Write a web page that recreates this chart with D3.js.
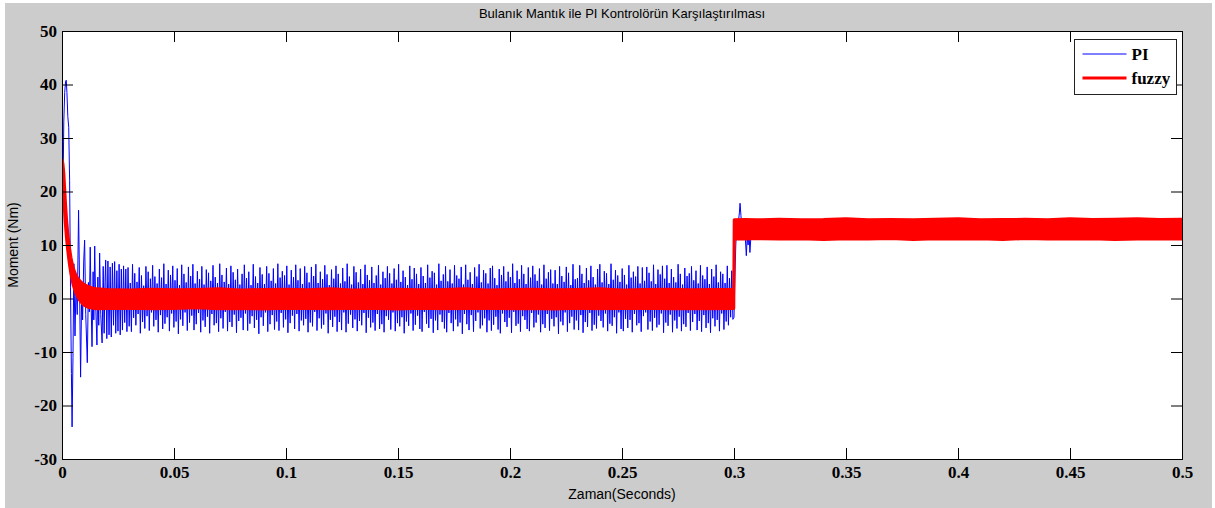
<!DOCTYPE html>
<html>
<head>
<meta charset="utf-8">
<script src="https://cdn.jsdelivr.net/npm/d3@7"></script>
<style>
  body { margin: 0; background: #ffffff; }
  svg text { fill: #000; }
</style>
</head>
<body>
<svg id="chart" width="1215" height="508"></svg>
<script>
// ---- Torque response: PI controller vs fuzzy controller ----

const xTickValues = [0, 0.05, 0.1, 0.15, 0.2, 0.25, 0.3, 0.35, 0.4, 0.45, 0.5];
const yTickValues = [-30, -20, -10, 0, 10, 20, 30, 40, 50];

// PI: start-up transient (time in s, torque in Nm)
const piStartTime = [0, 0.0004, 0.0008, 0.0012, 0.0016, 0.0019, 0.0022, 0.0026, 0.003, 0.0034,
  0.0038, 0.0042, 0.0045, 0.0049, 0.0053, 0.0058, 0.0063, 0.0068, 0.0074, 0.0078,
  0.0083, 0.0088, 0.0092, 0.0097, 0.0101, 0.0106, 0.0113, 0.0118, 0.0122, 0.0126,
  0.0130, 0.0134, 0.0139, 0.0142, 0.0146, 0.0151, 0.0156, 0.0160, 0.0164, 0.0168,
  0.0173, 0.0179, 0.0184, 0.0188, 0.0192, 0.0195, 0.0200];
const piStartValue = [0, 18, 33, 38.5, 40.6, 40.8, 38.5, 34, 32, 22,
  2, -14, -24, -11, 6.5, -7, 3.5, -3, 16.5, 4,
  -14.7, 1.5, -4, 7, 10.9, -3, -12, 3, -2.5, 9.6,
  -1, -9, 5, -4, 9.8, -2, -8.7, 4, -5, 8.5,
  -3, -8.3, 6, -6.5, 3, 7.2, -7.5];

// PI: no-load steady state, evenly sampled from piSteadyStart to piSteadyEnd
const piSteadyStart = 0.0205;
const piSteadyEnd = 0.2995;
const piSteady = [
  7.0,-6.8,5.9,-7.2,6.6,-5.0,6.9,-6.5,5.2,-6.1,6.4,-6.8,5.5,-5.9,6.1,-4.5,5.5,-6.2,5.8,-5.2,
  2.9,-6.2,6.4,-3.6,4.7,-5.0,3.1,-2.9,5.8,-6.5,4.3,-4.4,2.4,-5.6,6.0,-3.3,5.0,-6.0,3.7,-2.6,
  6.2,-5.2,4.1,-4.0,2.8,-6.3,5.5,-3.1,3.9,-5.7,6.5,-4.7,2.7,-3.5,5.3,-6.1,4.4,-2.8,6.1,-5.4,
  3.4,-4.3,5.6,-6.6,2.5,-3.9,6.3,-5.1,4.6,-2.6,3.0,-6.0,5.9,-4.5,4.2,-3.2,6.4,-5.9,2.8,-4.8,
  5.1,-2.7,3.6,-6.3,6.0,-4.1,2.6,-5.3,5.4,-3.4,4.8,-6.5,3.3,-2.9,6.2,-5.0,4.0,-4.6,2.9,-6.2,
  6.5,-3.7,4.4,-5.6,3.1,-2.5,5.7,-6.1,2.7,-4.4,6.1,-5.3,4.9,-3.0,3.5,-6.4,5.5,-4.2,2.6,-3.6,
  4.6,-5.9,6.3,-2.8,3.8,-6.0,5.0,-4.7,2.5,-3.3,6.4,-5.5,4.1,-4.0,2.9,-6.6,5.8,-3.5,4.5,-5.1,
  2.7,-2.6,6.0,-6.2,4.7,-4.8,3.3,-3.1,5.6,-5.8,2.8,-4.3,6.5,-6.0,3.9,-2.7,5.1,-5.4,4.3,-3.9,
  6.1,-6.4,2.6,-4.6,5.3,-3.2,4.0,-5.7,6.3,-2.9,3.4,-6.1,5.6,-4.1,2.7,-5.0,6.0,-3.8,4.8,-6.3,
  3.0,-4.5,5.9,-5.2,4.2,-2.5,6.4,-6.0,2.9,-3.7,5.0,-5.6,3.6,-4.9,6.2,-2.8,4.5,-6.5,2.5,-4.0,
  5.4,-5.3,3.7,-3.4,6.1,-6.2,4.6,-4.4,2.8,-5.9,5.7,-2.6,3.2,-6.3,6.5,-4.7,4.1,-3.0,2.6,-5.5,
  6.0,-3.9,4.9,-6.1,3.0,-4.2,5.5,-5.0,2.7,-2.7,6.3,-6.4,4.4,-3.6,3.4,-5.4,5.9,-4.5,2.9,-6.0,
  4.3,-2.9,6.2,-5.7,2.6,-4.8,5.0,-6.3,3.8,-3.3,6.0,-4.0,4.7,-5.8,2.8,-2.6,5.6,-6.1,3.5,-4.6,
  6.4,-5.2,3.1,-3.5,5.2,-6.5,4.0,-4.3,2.5,-5.1,6.1,-2.8,3.6,-6.0,5.7,-4.9,4.6,-3.2,2.7,-5.7,
  5.8,-6.2,4.2,-2.5,2.9,-4.7,6.3,-5.5,3.9,-3.8,5.1,-6.4,4.8,-4.1,2.6,-5.9,6.5,-3.0,3.3,-4.4,
  4.5,-5.6,6.0,-6.3,3.2,-2.7,5.4,-4.6,2.8,-6.1,6.2,-3.9,4.3,-5.2,3.7,-4.5,5.9,-6.6,2.6,-2.9,
  6.3,-4.8,3.5,-5.9,4.9,-3.1,2.7,-6.2,5.8,-4.2,4.1,-2.6,6.4,-5.6,3.0,-5.0,5.3,-3.7,4.7,-6.3,
  2.8,-4.1,5.7,-6.0,6.1,-4.9,3.8,-3.4,2.5,-5.8,5.5,-6.5,4.4,-2.8,6.0,-4.4,3.2,-5.3,5.0,-3.6,
  4.0,-6.4,6.5,-2.5,2.9,-5.1,5.2,-4.7,3.6,-6.2,6.2,-3.3,4.6,-4.0,2.7,-5.7,5.8,-6.1,3.9,-2.7,
  6.1,-5.4,4.5,-4.5,3.3,-3.0,5.6,-6.3,2.6,-4.8,6.3,-5.5,3.7,-2.9,4.9,-6.0,5.4,-3.8,2.8,-5.2,
  5.3,-3.5,2.7,-6.6,6.0,-4.3,4.2,-5.0,3.1,-2.6,5.9,-6.2,4.8,-4.6,2.5,-3.4,6.4,-5.8,3.6,-4.1,
  3.8,-5.9,6.2,-3.1,4.6,-6.4,2.9,-4.4,5.7,-5.3,3.4,-2.7,6.1,-6.0,4.0,-4.9,2.6,-5.6,5.5,-3.2,
  6.4,-4.2,3.0,-5.4,5.1,-2.8,4.7,-6.1,2.7,-4.7,6.5,-5.1,3.5,-3.5,5.3,-6.5,4.3,-2.6,3.1,-5.7,
  5.6,-6.1,4.4,-3.8,2.6,-5.5,6.2,-4.0,3.9,-6.3,5.0,-2.9,4.1,-5.0,6.0,-4.6,2.8,-6.2,5.8,-3.3,
  3.3,-2.6,5.9,-5.8,4.8,-4.3,3.2,-6.0,6.3,-3.6,2.7,-5.4,5.4,-4.9,4.5,-2.8,6.1,-6.4,3.7,-4.5,
  6.2,-5.1,2.9,-3.0,5.5,-6.3,4.0,-4.1,3.0,-5.6,6.4,-3.4,4.6,-6.1,2.6,-4.8,5.7,-5.3,4.2,-2.7,
  4.7,-6.0,6.0,-4.4,3.4,-2.9,5.2,-5.9,2.8,-4.2,6.2,-6.2,4.3,-3.1,3.6,-5.5,5.9,-4.6,2.7,-6.4,
  5.5,-3.7,4.1,-5.2,6.3,-4.0,3.0,-6.1,5.0,-2.8,4.6,-5.8,2.9,-4.3,6.1,-5.0,3.8,-3.5,5.2,-3.9
];

// PI: load step at 0.3 s and loaded operation
const piLoadTime = [0.3000, 0.3004, 0.3008, 0.3012, 0.3016, 0.3020, 0.3024, 0.3027, 0.3031, 0.3035,
  0.3039, 0.3043, 0.3047, 0.3051, 0.3055, 0.3059, 0.3063, 0.3067, 0.3071, 0.3075,
  0.3079, 0.3084, 0.3090, 0.310, 0.315, 0.320, 0.325, 0.330, 0.335, 0.340,
  0.345, 0.350, 0.355, 0.360, 0.365, 0.370, 0.375, 0.380, 0.385, 0.390,
  0.395, 0.400, 0.405, 0.410, 0.415, 0.420, 0.425, 0.430, 0.435, 0.440,
  0.445, 0.450, 0.455, 0.460, 0.465, 0.470, 0.475, 0.480, 0.485, 0.490,
  0.495, 0.500];
const piLoadValue = [-3.5, 4, 10, 13.5, 12, 14.5, 16, 17.8, 15.5, 13,
  14.2, 11.8, 13.5, 11, 8.0, 11.5, 10, 12.5, 8.6, 11.2,
  13.8, 11.6, 14.2, 12.2, 13.9, 11.8, 14.2, 12.0, 13.6, 11.7,
  14.1, 12.3, 13.8, 11.9, 14.3, 12.1, 13.7, 11.8, 14.0, 12.4,
  13.9, 11.7, 14.2, 12.0, 13.6, 11.9, 14.1, 12.2, 13.8, 11.8,
  14.3, 12.1, 13.7, 11.9, 14.0, 12.3, 13.9, 11.7, 14.2, 12.0,
  13.6, 12.5];

// Fuzzy: upper and lower edges of the ripple band (Nm)
const fuzzyTime = [0, 0.0004, 0.0008, 0.0012, 0.0016, 0.002, 0.0025, 0.003, 0.0035, 0.004,
  0.0045, 0.005, 0.006, 0.007, 0.008, 0.009, 0.010, 0.012, 0.014, 0.016,
  0.02, 0.03, 0.04, 0.05, 0.06, 0.07, 0.08, 0.09, 0.10, 0.11,
  0.12, 0.13, 0.14, 0.15, 0.16, 0.17, 0.18, 0.19, 0.20, 0.21,
  0.22, 0.23, 0.24, 0.25, 0.26, 0.27, 0.28, 0.29, 0.2999,
  0.3001, 0.305, 0.31, 0.32, 0.33, 0.34, 0.35, 0.36, 0.37, 0.38,
  0.39, 0.40, 0.41, 0.42, 0.43, 0.44, 0.45, 0.46, 0.47, 0.48,
  0.49, 0.50];
const fuzzyHigh = [26.0, 25.2, 23.5, 20.5, 17.5, 15.0, 12.6, 10.6, 9.0, 7.7,
  6.6, 5.7, 4.6, 3.8, 3.3, 2.9, 2.6, 2.2, 1.9, 1.8,
  1.7, 1.6, 1.75, 1.65, 1.7, 1.8, 1.6, 1.7, 1.75, 1.65,
  1.8, 1.6, 1.7, 1.75, 1.65, 1.7, 1.8, 1.6, 1.7, 1.75,
  1.65, 1.7, 1.8, 1.6, 1.7, 1.75, 1.65, 1.7, 1.7,
  14.7, 14.75, 14.7, 14.8, 14.7, 14.75, 14.9, 14.7, 14.75, 14.7,
  14.8, 14.9, 14.7, 14.75, 14.8, 14.7, 14.9, 14.75, 14.8, 14.9,
  14.75, 14.8];
const fuzzyLow = [23.5, 21.5, 18.8, 16.0, 13.4, 11.3, 9.2, 7.4, 5.9, 4.6,
  3.5, 2.5, 1.2, 0.3, -0.4, -0.9, -1.3, -1.7, -1.85, -1.9,
  -1.85, -1.8, -1.9, -1.85, -1.75, -1.9, -1.85, -1.95, -1.8, -1.85,
  -1.9, -1.8, -1.85, -1.95, -1.8, -1.9, -1.85, -1.8, -1.9, -1.85,
  -1.95, -1.8, -1.9, -1.85, -1.8, -1.9, -1.85, -1.9, -1.85,
  11.15, 11.1, 11.2, 11.1, 11.15, 11.05, 11.15, 11.1, 11.2, 11.05,
  11.15, 11.1, 11.15, 11.05, 11.2, 11.1, 11.1, 11.15, 11.05, 11.1,
  11.15, 11.1];

// ---- assemble series ----
const piSteadyTime = piSteady.map((_, i) =>
  piSteadyStart + (piSteadyEnd - piSteadyStart) * i / (piSteady.length - 1));
const piSeries = [
  ...piStartTime.map((t, i) => [t, piStartValue[i]]),
  ...piSteadyTime.map((t, i) => [t, piSteady[i]]),
  ...piLoadTime.map((t, i) => [t, piLoadValue[i]])
];
const fuzzySeries = fuzzyTime.map((t, i) => ({ t, hi: fuzzyHigh[i], lo: fuzzyLow[i] }));

// ---- layout ----
const W = 1215, H = 508;
const plot = { left: 62, right: 1182, top: 31, bottom: 459 };
const tickLen = 11;
const tickFont = '"Liberation Serif", "Times New Roman", serif';
const textFont = '"Liberation Sans", Arial, sans-serif';

const svg = d3.select("#chart");

// figure background
svg.append("rect").attr("x", 0).attr("y", 0).attr("width", W).attr("height", H).attr("fill", "#ffffff");
svg.append("rect").attr("x", 5).attr("y", 3).attr("width", W - 8).attr("height", H - 3).attr("fill", "#cccccc");

// axes background
svg.append("rect")
  .attr("x", plot.left).attr("y", plot.top)
  .attr("width", plot.right - plot.left).attr("height", plot.bottom - plot.top)
  .attr("fill", "#ffffff");

const x = d3.scaleLinear().domain([0, 0.5]).range([plot.left, plot.right]);
const y = d3.scaleLinear().domain([-30, 50]).range([plot.bottom, plot.top]);

svg.append("defs").append("clipPath").attr("id", "plotClip")
  .append("rect")
  .attr("x", plot.left + 0.5).attr("y", plot.top)
  .attr("width", plot.right - plot.left - 0.5).attr("height", plot.bottom - plot.top);

const traces = svg.append("g").attr("clip-path", "url(#plotClip)");

// PI trace
traces.append("path")
  .datum(piSeries)
  .attr("fill", "none")
  .attr("stroke", "#0000ff")
  .attr("stroke-width", 1)
  .attr("stroke-linejoin", "miter")
  .attr("d", d3.line().x(d => x(d[0])).y(d => y(d[1])));

// Fuzzy trace (dense ripple drawn as a thick band)
traces.append("path")
  .datum(fuzzySeries)
  .attr("fill", "#ff0000")
  .attr("stroke", "#ff0000")
  .attr("stroke-width", 3)
  .attr("stroke-linejoin", "round")
  .attr("d", d3.area().x(d => x(d.t)).y0(d => y(d.lo)).y1(d => y(d.hi)));

// ticks (inward, on all four sides)
const fmt = d => String(d);
const styleAxis = g => {
  g.select(".domain").remove();
  g.selectAll(".tick line").attr("stroke", "#000").attr("stroke-width", 1);
  g.selectAll(".tick text")
    .attr("font-family", tickFont).attr("font-weight", "bold")
    .attr("font-size", 17).attr("fill", "#000");
};

svg.append("g").attr("transform", `translate(0,${plot.bottom})`)
  .call(d3.axisBottom(x).tickValues(xTickValues).tickFormat(fmt).tickSizeInner(-tickLen).tickSizeOuter(0).tickPadding(7))
  .call(styleAxis);
svg.append("g").attr("transform", `translate(0,${plot.top})`)
  .call(d3.axisTop(x).tickValues(xTickValues).tickFormat("").tickSizeInner(-tickLen).tickSizeOuter(0))
  .call(styleAxis);
svg.append("g").attr("transform", `translate(${plot.left},0)`)
  .call(d3.axisLeft(y).tickValues(yTickValues).tickFormat(fmt).tickSizeInner(-tickLen).tickSizeOuter(0).tickPadding(5))
  .call(styleAxis);
svg.append("g").attr("transform", `translate(${plot.right},0)`)
  .call(d3.axisRight(y).tickValues(yTickValues).tickFormat("").tickSizeInner(-tickLen).tickSizeOuter(0))
  .call(styleAxis);

// axes box
svg.append("rect")
  .attr("x", plot.left + 0.5).attr("y", plot.top + 0.5)
  .attr("width", plot.right - plot.left).attr("height", plot.bottom - plot.top)
  .attr("fill", "none").attr("stroke", "#000").attr("stroke-width", 1);

// title and axis labels
svg.append("text")
  .attr("x", (plot.left + plot.right) / 2).attr("y", 18)
  .attr("text-anchor", "middle")
  .attr("font-family", textFont).attr("font-size", 13)
  .text("Bulanık Mantık ile PI Kontrolörün Karşılaştırılması");

svg.append("text")
  .attr("x", (plot.left + plot.right) / 2).attr("y", 499)
  .attr("text-anchor", "middle")
  .attr("font-family", textFont).attr("font-size", 14)
  .text("Zaman(Seconds)");

svg.append("text")
  .attr("transform", `translate(18,${(plot.top + plot.bottom) / 2}) rotate(-90)`)
  .attr("text-anchor", "middle")
  .attr("font-family", textFont).attr("font-size", 14)
  .text("Moment (Nm)");

// legend
const legend = svg.append("g").attr("transform", "translate(1074.5,39.5)");
legend.append("rect").attr("width", 102).attr("height", 55)
  .attr("fill", "#ffffff").attr("stroke", "#222").attr("stroke-width", 1);
const legendItems = [
  { name: "PI", color: "#0000ff", width: 1 },
  { name: "fuzzy", color: "#ff0000", width: 3 }
];
legendItems.forEach((item, i) => {
  const cy = 14.5 + i * 24;
  legend.append("line").attr("x1", 8).attr("x2", 52).attr("y1", cy).attr("y2", cy)
    .attr("stroke", item.color).attr("stroke-width", item.width);
  legend.append("text").attr("x", 57).attr("y", cy + 6)
    .attr("font-family", tickFont).attr("font-weight", "bold").attr("font-size", 17)
    .text(item.name);
});
</script>
</body>
</html>
